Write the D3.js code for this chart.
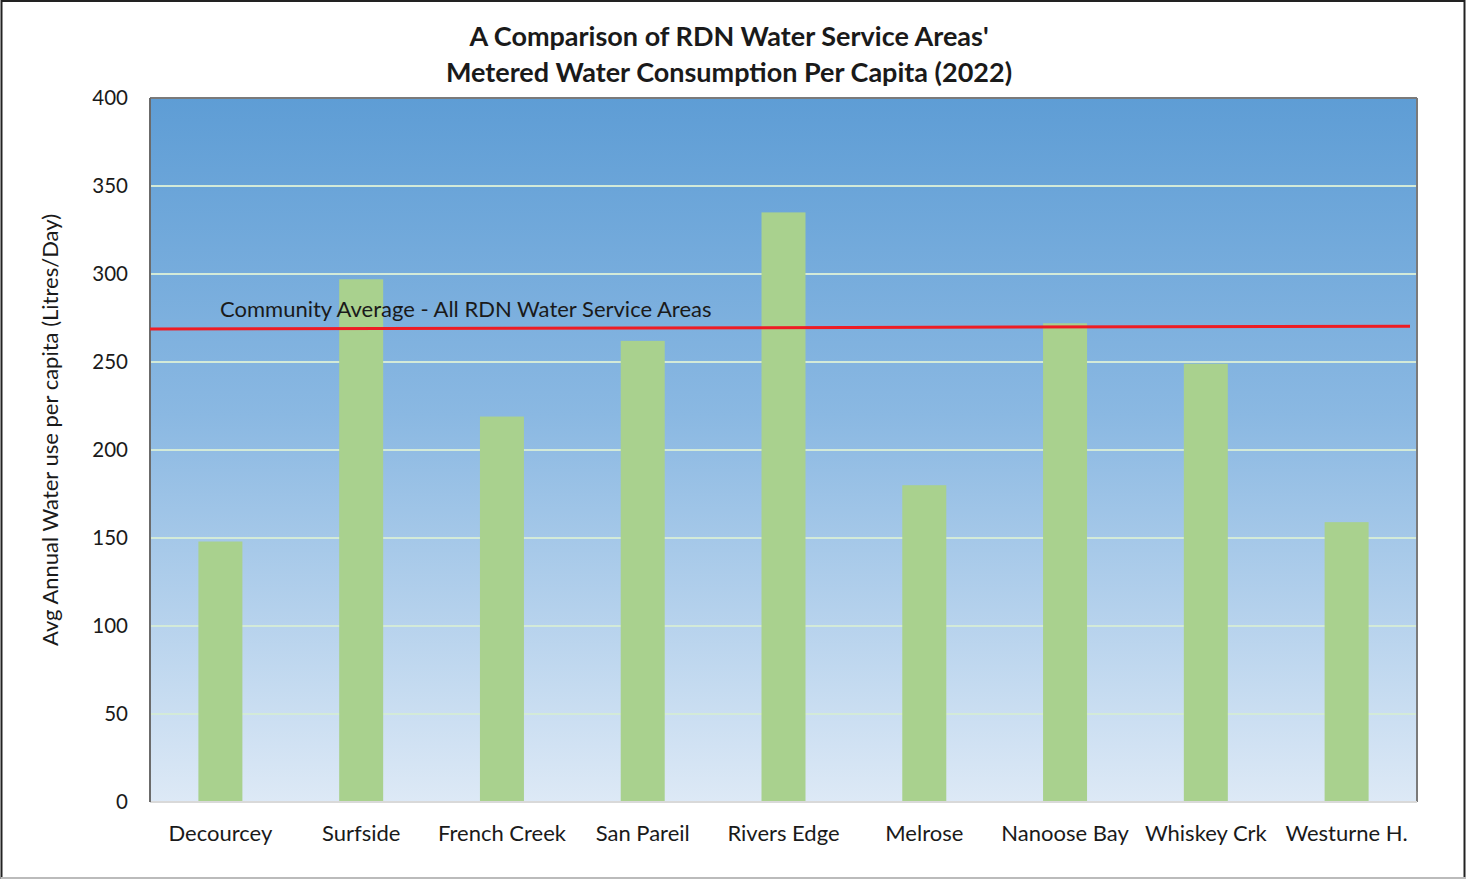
<!DOCTYPE html>
<html><head><meta charset="utf-8">
<script src="https://cdn.jsdelivr.net/npm/d3@7"></script>
<style>body{margin:0;background:#fff}svg{display:block}text{font-family:Lato,"Open Sans",sans-serif;fill:#1a1a1a}</style>
</head><body>
<svg id="c" width="1467" height="880"></svg>
<script>
const categories = ["Decourcey","Surfside","French Creek","San Pareil","Rivers Edge","Melrose","Nanoose Bay","Whiskey Crk","Westurne H."];
const values = [148, 297, 219, 262, 335, 180, 272, 249, 159];
const yTicks = [0,50,100,150,200,250,300,350,400];
const avgPoints = [{pos:0, value:268.8},{pos:1, value:270.3}];
const avgLabel = "Community Average - All RDN Water Service Areas";
const titleLines = ["A Comparison of RDN Water Service Areas'","Metered Water Consumption Per Capita (2022)"];
const yTitle = "Avg Annual Water use per capita (Litres/Day)";

const svg = d3.select("#c");
const L=150, R=1417, T=98, B=802;

// outer frame
svg.append("rect").attr("x",1.5).attr("y",1).attr("width",1463).attr("height",877)
  .attr("fill","#fff").attr("stroke","#222").attr("stroke-width",2);
svg.append("line").attr("x1",1).attr("x2",1466).attr("y1",878).attr("y2",878).attr("stroke","#bbb").attr("stroke-width",2);

const x = d3.scaleBand().domain(categories).range([L,R]).paddingInner(0.6875).paddingOuter(0.34375);
const y = d3.scaleLinear().domain([0,400]).range([B,T]);

const defs = svg.append("defs");
const g = defs.append("linearGradient").attr("id","bg").attr("x1",0).attr("y1",0).attr("x2",0).attr("y2",1);
g.append("stop").attr("offset","0%").attr("stop-color","#5e9dd5");
g.append("stop").attr("offset","45%").attr("stop-color","#8ab8e2");
g.append("stop").attr("offset","100%").attr("stop-color","#dde9f6");
svg.append("rect").attr("x",L).attr("y",T).attr("width",R-L).attr("height",B-T).attr("fill","url(#bg)");

// gridlines
svg.append("g").selectAll("line").data(yTicks.filter(d=>d>0&&d<400)).join("line")
  .attr("x1",L).attr("x2",R).attr("y1",d=>y(d)).attr("y2",d=>y(d))
  .attr("stroke","#d3ead8").attr("stroke-width",2);

// bars
svg.append("g").selectAll("rect").data(values).join("rect")
  .attr("x",(d,i)=>x(categories[i])).attr("width",x.bandwidth())
  .attr("y",d=>y(d)).attr("height",d=>y(0)-y(d)).attr("fill","#a9d18e");

// plot border
svg.append("line").attr("x1",L).attr("x2",R).attr("y1",T).attr("y2",T).attr("stroke","#7a7a7a").attr("stroke-width",2);
svg.append("line").attr("x1",R).attr("x2",R).attr("y1",T).attr("y2",B).attr("stroke","#7a7a7a").attr("stroke-width",2);
svg.append("line").attr("x1",L).attr("x2",R).attr("y1",B).attr("y2",B).attr("stroke","#d9d9d9").attr("stroke-width",2);
svg.append("line").attr("x1",L).attr("x2",L).attr("y1",T).attr("y2",B).attr("stroke","#6b6b6b").attr("stroke-width",2);

// average line
const px = d3.scaleLinear().domain([0,1]).range([L,R-7]);
svg.append("path").datum(avgPoints)
  .attr("d",d3.line().x(d=>px(d.pos)).y(d=>y(d.value)))
  .attr("stroke","#ee1c24").attr("stroke-width",3).attr("fill","none");
svg.append("text").attr("x",220).attr("y",317).attr("font-size",22).text(avgLabel);

// y axis labels
const ya = svg.append("g").attr("transform",`translate(${L},0)`)
  .call(d3.axisLeft(y).tickValues(yTicks).tickSize(0).tickPadding(22));
ya.select(".domain").remove();
ya.selectAll("text").attr("font-size",20.5).attr("font-family","Lato, sans-serif").attr("fill","#1a1a1a").attr("dy","0.32em");

// x axis labels
const xa = svg.append("g").attr("transform",`translate(0,${B})`)
  .call(d3.axisBottom(x).tickSize(0).tickPadding(23));
xa.select(".domain").remove();
xa.selectAll("text").attr("font-size",22).attr("font-family","Lato, sans-serif").attr("fill","#1a1a1a");

// title
svg.append("g").selectAll("text").data(titleLines).join("text")
  .attr("x",729).attr("y",(d,i)=>46+i*36).attr("text-anchor","middle")
  .attr("font-size",27).attr("font-weight","bold").text(d=>d);

// y title
svg.append("text").attr("transform","translate(58,430) rotate(-90)").attr("text-anchor","middle")
  .attr("font-size",22).text(yTitle);
</script>
</body></html>
